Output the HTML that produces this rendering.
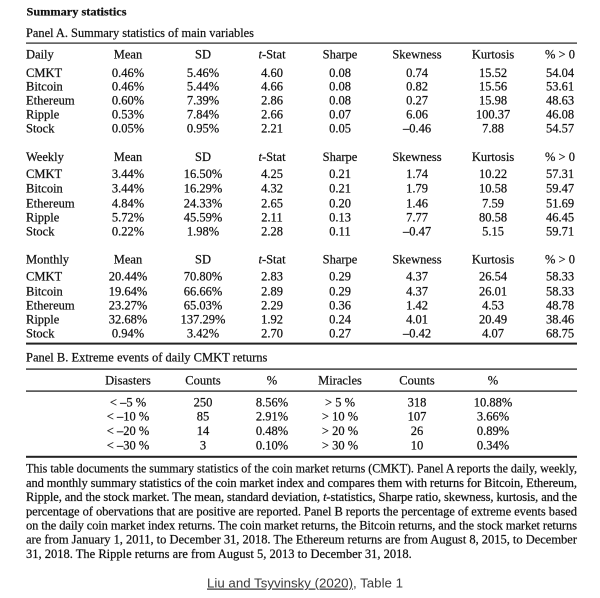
<!DOCTYPE html>
<html><head><meta charset="utf-8"><style>
html,body{margin:0;padding:0;background:#fff;}
svg{display:block;}
text{font-family:"Liberation Serif",serif;font-size:12.5px;fill:#111;stroke:#111;stroke-width:0.22px;}
.c{text-anchor:middle;}
.b{font-weight:bold;}
.lk{font-family:"Liberation Sans",sans-serif;font-size:12.5px;fill:#3a3a3a;stroke:none;}
</style></head><body>
<svg width="600" height="598" viewBox="0 0 600 598" xmlns="http://www.w3.org/2000/svg">
<rect width="600" height="598" fill="#fff"/>
<text x="26.5" y="15.5" class="b" style="font-size:12px" textLength="100" lengthAdjust="spacingAndGlyphs">Summary statistics</text>
<text x="26" y="37" textLength="228" lengthAdjust="spacingAndGlyphs">Panel A. Summary statistics of main variables</text>
<rect x="26" y="42.5" width="551" height="1.2" fill="#222"/>

<!-- Daily -->
<g>
<text x="26" y="58.5">Daily</text><text x="128" y="58.5" class="c">Mean</text><text x="203" y="58.5" class="c">SD</text><text x="272" y="58.5" class="c"><tspan font-style="italic">t</tspan>-Stat</text><text x="340" y="58.5" class="c">Sharpe</text><text x="417" y="58.5" class="c">Skewness</text><text x="493" y="58.5" class="c">Kurtosis</text><text x="560" y="58.5" class="c">% &gt; 0</text>
<text x="26" y="77">CMKT</text><text x="128" y="77" class="c">0.46%</text><text x="203" y="77" class="c">5.46%</text><text x="272" y="77" class="c">4.60</text><text x="340" y="77" class="c">0.08</text><text x="417" y="77" class="c">0.74</text><text x="493" y="77" class="c">15.52</text><text x="560" y="77" class="c">54.04</text>
<text x="26" y="90.5">Bitcoin</text><text x="128" y="90.5" class="c">0.46%</text><text x="203" y="90.5" class="c">5.44%</text><text x="272" y="90.5" class="c">4.66</text><text x="340" y="90.5" class="c">0.08</text><text x="417" y="90.5" class="c">0.82</text><text x="493" y="90.5" class="c">15.56</text><text x="560" y="90.5" class="c">53.61</text>
<text x="26" y="104.5">Ethereum</text><text x="128" y="104.5" class="c">0.60%</text><text x="203" y="104.5" class="c">7.39%</text><text x="272" y="104.5" class="c">2.86</text><text x="340" y="104.5" class="c">0.08</text><text x="417" y="104.5" class="c">0.27</text><text x="493" y="104.5" class="c">15.98</text><text x="560" y="104.5" class="c">48.63</text>
<text x="26" y="118.6">Ripple</text><text x="128" y="118.6" class="c">0.53%</text><text x="203" y="118.6" class="c">7.84%</text><text x="272" y="118.6" class="c">2.66</text><text x="340" y="118.6" class="c">0.07</text><text x="417" y="118.6" class="c">6.06</text><text x="493" y="118.6" class="c">100.37</text><text x="560" y="118.6" class="c">46.08</text>
<text x="26" y="132.6">Stock</text><text x="128" y="132.6" class="c">0.05%</text><text x="203" y="132.6" class="c">0.95%</text><text x="272" y="132.6" class="c">2.21</text><text x="340" y="132.6" class="c">0.05</text><text x="417" y="132.6" class="c">–0.46</text><text x="493" y="132.6" class="c">7.88</text><text x="560" y="132.6" class="c">54.57</text>
</g>

<!-- Weekly -->
<g>
<text x="26" y="161">Weekly</text><text x="128" y="161" class="c">Mean</text><text x="203" y="161" class="c">SD</text><text x="272" y="161" class="c"><tspan font-style="italic">t</tspan>-Stat</text><text x="340" y="161" class="c">Sharpe</text><text x="417" y="161" class="c">Skewness</text><text x="493" y="161" class="c">Kurtosis</text><text x="560" y="161" class="c">% &gt; 0</text>
<text x="26" y="178">CMKT</text><text x="128" y="178" class="c">3.44%</text><text x="203" y="178" class="c">16.50%</text><text x="272" y="178" class="c">4.25</text><text x="340" y="178" class="c">0.21</text><text x="417" y="178" class="c">1.74</text><text x="493" y="178" class="c">10.22</text><text x="560" y="178" class="c">57.31</text>
<text x="26" y="192.6">Bitcoin</text><text x="128" y="192.6" class="c">3.44%</text><text x="203" y="192.6" class="c">16.29%</text><text x="272" y="192.6" class="c">4.32</text><text x="340" y="192.6" class="c">0.21</text><text x="417" y="192.6" class="c">1.79</text><text x="493" y="192.6" class="c">10.58</text><text x="560" y="192.6" class="c">59.47</text>
<text x="26" y="207.3">Ethereum</text><text x="128" y="207.3" class="c">4.84%</text><text x="203" y="207.3" class="c">24.33%</text><text x="272" y="207.3" class="c">2.65</text><text x="340" y="207.3" class="c">0.20</text><text x="417" y="207.3" class="c">1.46</text><text x="493" y="207.3" class="c">7.59</text><text x="560" y="207.3" class="c">51.69</text>
<text x="26" y="221.3">Ripple</text><text x="128" y="221.3" class="c">5.72%</text><text x="203" y="221.3" class="c">45.59%</text><text x="272" y="221.3" class="c">2.11</text><text x="340" y="221.3" class="c">0.13</text><text x="417" y="221.3" class="c">7.77</text><text x="493" y="221.3" class="c">80.58</text><text x="560" y="221.3" class="c">46.45</text>
<text x="26" y="235.3">Stock</text><text x="128" y="235.3" class="c">0.22%</text><text x="203" y="235.3" class="c">1.98%</text><text x="272" y="235.3" class="c">2.28</text><text x="340" y="235.3" class="c">0.11</text><text x="417" y="235.3" class="c">–0.47</text><text x="493" y="235.3" class="c">5.15</text><text x="560" y="235.3" class="c">59.71</text>
</g>

<!-- Monthly -->
<g>
<text x="26" y="263.3">Monthly</text><text x="128" y="263.3" class="c">Mean</text><text x="203" y="263.3" class="c">SD</text><text x="272" y="263.3" class="c"><tspan font-style="italic">t</tspan>-Stat</text><text x="340" y="263.3" class="c">Sharpe</text><text x="417" y="263.3" class="c">Skewness</text><text x="493" y="263.3" class="c">Kurtosis</text><text x="560" y="263.3" class="c">% &gt; 0</text>
<text x="26" y="280.3">CMKT</text><text x="128" y="280.3" class="c">20.44%</text><text x="203" y="280.3" class="c">70.80%</text><text x="272" y="280.3" class="c">2.83</text><text x="340" y="280.3" class="c">0.29</text><text x="417" y="280.3" class="c">4.37</text><text x="493" y="280.3" class="c">26.54</text><text x="560" y="280.3" class="c">58.33</text>
<text x="26" y="295.3">Bitcoin</text><text x="128" y="295.3" class="c">19.64%</text><text x="203" y="295.3" class="c">66.66%</text><text x="272" y="295.3" class="c">2.89</text><text x="340" y="295.3" class="c">0.29</text><text x="417" y="295.3" class="c">4.37</text><text x="493" y="295.3" class="c">26.01</text><text x="560" y="295.3" class="c">58.33</text>
<text x="26" y="309.3">Ethereum</text><text x="128" y="309.3" class="c">23.27%</text><text x="203" y="309.3" class="c">65.03%</text><text x="272" y="309.3" class="c">2.29</text><text x="340" y="309.3" class="c">0.36</text><text x="417" y="309.3" class="c">1.42</text><text x="493" y="309.3" class="c">4.53</text><text x="560" y="309.3" class="c">48.78</text>
<text x="26" y="323.3">Ripple</text><text x="128" y="323.3" class="c">32.68%</text><text x="203" y="323.3" class="c">137.29%</text><text x="272" y="323.3" class="c">1.92</text><text x="340" y="323.3" class="c">0.24</text><text x="417" y="323.3" class="c">4.01</text><text x="493" y="323.3" class="c">20.49</text><text x="560" y="323.3" class="c">38.46</text>
<text x="26" y="337.3">Stock</text><text x="128" y="337.3" class="c">0.94%</text><text x="203" y="337.3" class="c">3.42%</text><text x="272" y="337.3" class="c">2.70</text><text x="340" y="337.3" class="c">0.27</text><text x="417" y="337.3" class="c">–0.42</text><text x="493" y="337.3" class="c">4.07</text><text x="560" y="337.3" class="c">68.75</text>
</g>
<rect x="26" y="342.6" width="551" height="2" fill="#222"/>

<!-- Panel B -->
<text x="26" y="361.3">Panel B. Extreme events of daily CMKT returns</text>
<rect x="26" y="368.4" width="551" height="1.4" fill="#333"/>
<g>
<text x="128" y="384.3" class="c">Disasters</text><text x="203" y="384.3" class="c">Counts</text><text x="272" y="384.3" class="c">%</text><text x="340" y="384.3" class="c">Miracles</text><text x="417" y="384.3" class="c">Counts</text><text x="493" y="384.3" class="c">%</text>
</g>
<rect x="26" y="390.4" width="551" height="1.4" fill="#333"/>
<g>
<text x="128" y="406.3" class="c">&lt; –5 %</text><text x="203" y="406.3" class="c">250</text><text x="272" y="406.3" class="c">8.56%</text><text x="340" y="406.3" class="c">&gt; 5 %</text><text x="417" y="406.3" class="c">318</text><text x="493" y="406.3" class="c">10.88%</text>
<text x="128" y="420.3" class="c">&lt; –10 %</text><text x="203" y="420.3" class="c">85</text><text x="272" y="420.3" class="c">2.91%</text><text x="340" y="420.3" class="c">&gt; 10 %</text><text x="417" y="420.3" class="c">107</text><text x="493" y="420.3" class="c">3.66%</text>
<text x="128" y="434.8" class="c">&lt; –20 %</text><text x="203" y="434.8" class="c">14</text><text x="272" y="434.8" class="c">0.48%</text><text x="340" y="434.8" class="c">&gt; 20 %</text><text x="417" y="434.8" class="c">26</text><text x="493" y="434.8" class="c">0.89%</text>
<text x="128" y="449.5" class="c">&lt; –30 %</text><text x="203" y="449.5" class="c">3</text><text x="272" y="449.5" class="c">0.10%</text><text x="340" y="449.5" class="c">&gt; 30 %</text><text x="417" y="449.5" class="c">10</text><text x="493" y="449.5" class="c">0.34%</text>
</g>
<rect x="26" y="455.8" width="551" height="2" fill="#222"/>

<!-- Caption -->
<text x="26" y="472.5" textLength="551" lengthAdjust="spacingAndGlyphs">This table documents the summary statistics of the coin market returns (CMKT). Panel A reports the daily, weekly,</text>
<text x="26" y="486.8" textLength="551" lengthAdjust="spacing">and monthly summary statistics of the coin market index and compares them with returns for Bitcoin, Ethereum,</text>
<text x="26" y="501" textLength="551" lengthAdjust="spacing">Ripple, and the stock market. The mean, standard deviation, <tspan font-style="italic">t</tspan>-statistics, Sharpe ratio, skewness, kurtosis, and the</text>
<text x="26" y="515.3" textLength="551" lengthAdjust="spacing">percentage of obervations that are positive are reported. Panel B reports the percentage of extreme events based</text>
<text x="26" y="529.6" textLength="551" lengthAdjust="spacing">on the daily coin market index returns. The coin market returns, the Bitcoin returns, and the stock market returns</text>
<text x="26" y="543.6" textLength="551" lengthAdjust="spacing">are from January 1, 2011, to December 31, 2018. The Ethereum returns are from August 8, 2015, to December</text>
<text x="26" y="558">31, 2018. The Ripple returns are from August 5, 2013 to December 31, 2018.</text>

<text x="207" y="587.5" class="lk" textLength="196" lengthAdjust="spacingAndGlyphs"><tspan text-decoration="underline">Liu and Tsyvinsky (2020)</tspan>, Table 1</text>
</svg>
</body></html>
